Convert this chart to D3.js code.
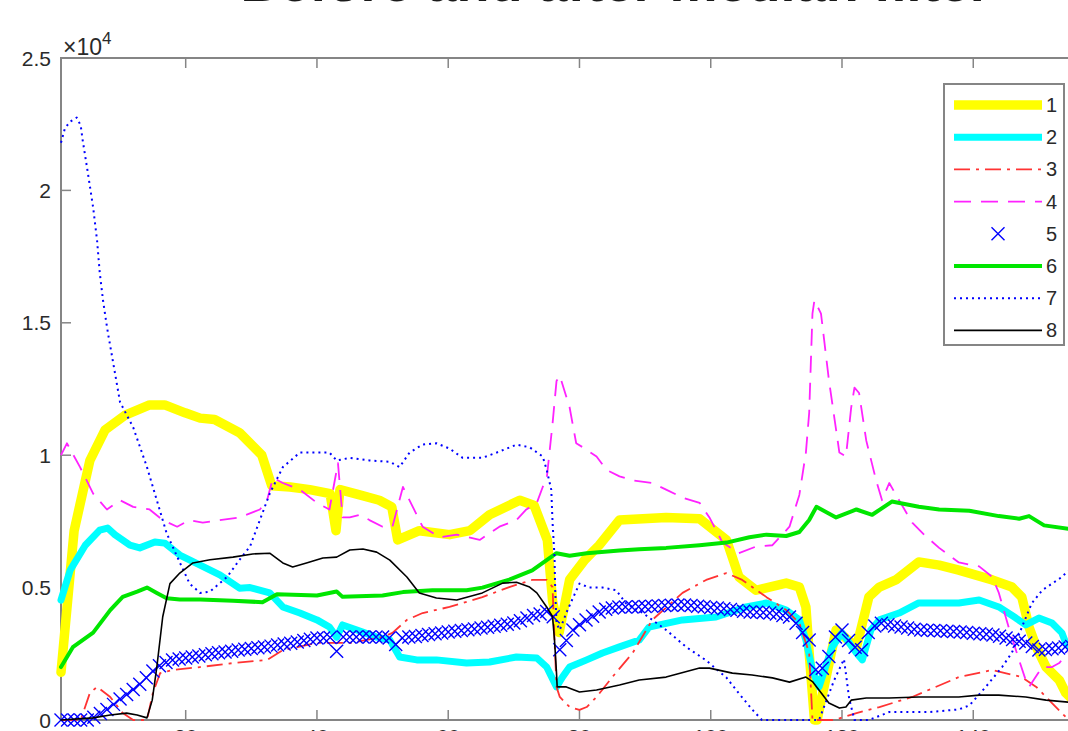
<!DOCTYPE html>
<html><head><meta charset="utf-8">
<script src="https://cdn.jsdelivr.net/npm/d3@7"></script>
<style>body{margin:0;background:#fff;overflow:hidden;} svg{display:block;}</style>
</head><body><svg id="chart" width="1068" height="731"></svg>
<script>
const titleText = "Before and after median filter";
const xTicks = [20, 40, 60, 80, 100, 120, 140, 160];
const yTicks = [0, 5000, 10000, 15000, 20000, 25000];
const yTickLabels = ["0", "0.5", "1", "1.5", "2", "2.5"];
const legendLabels = ["1", "2", "3", "4", "5", "6", "7", "8"];

const s1 = [[1,1800],[3,7150],[5.4,9800],[7.7,10950],[10.7,11500],[14.5,11900],[16.8,11900],[19.9,11600],[22.2,11400],[24.4,11350],[28.2,10850],[31.6,10000],[33.1,8850],[35.9,8800],[38.9,8700],[42,8550],[42.9,7150],[43.5,8700],[46.5,8500],[49.5,8300],[51.4,8050],[52.3,6800],[55.6,7150],[60.2,7000],[63.3,7150],[66.3,7750],[70.9,8300],[73.1,8100],[75.1,6800],[75.9,4500],[76.9,3300],[78.5,5300],[80.8,6050],[83,6600],[86.1,7550],[93.2,7650],[98.3,7600],[102.4,6800],[104.3,5400],[106.9,4900],[111.5,5170],[113.5,5020],[114.5,4270],[115,2530],[115.8,0],[116.2,0],[119.1,3400],[122.2,2750],[124.1,4650],[125.7,5020],[128.2,5290],[131.7,5970],[134.8,5850],[137.8,5660],[142.9,5290],[145.9,5020],[147.4,4640],[148.5,3510],[149.6,2760],[151.1,2000],[153.1,1510],[154.1,1020],[155,800]];

const s2 = [[1,4530],[2.4,5660],[4.7,6600],[6.9,7170],[8.1,7250],[9.2,7000],[11.5,6600],[13,6500],[15.3,6720],[16.8,6680],[19.1,6230],[22.2,5850],[25.2,5480],[28.2,4980],[29.8,5000],[32.8,4800],[34.8,4270],[37.4,4040],[40,3780],[41.9,3510],[43,3130],[43.9,3590],[46.1,3400],[49.1,3130],[51.1,3020],[52.6,2380],[55.2,2270],[58.2,2270],[62.8,2150],[66.3,2190],[70.4,2380],[73.5,2340],[75,2000],[76.5,1250],[77.4,1620],[78.5,2000],[81.1,2270],[83.5,2530],[86.1,2760],[89.1,3020],[90.6,3510],[95.7,3780],[100.8,3890],[105.4,4270],[108.5,4420],[111.5,4150],[113.5,3780],[114.5,3020],[115.5,1890],[116.5,1250],[118.5,2760],[120,3290],[122.2,2530],[123.1,2270],[124.4,3400],[125.7,3780],[128.7,4040],[131.7,4420],[137.8,4420],[140.9,4530],[143.9,4270],[146.5,3850],[148,3590],[150,3850],[152,3660],[153.5,3290],[154.1,2910],[155,2700]];

const s3 = [[1,0],[4,0],[5.4,1020],[6.5,1250],[8.5,870],[10.4,260],[12,0],[14.1,0],[15,1020],[16.1,1770],[18,1890],[22.2,2000],[27.2,2150],[32.4,2270],[34.8,2640],[40,2910],[45,2910],[50,3130],[51.5,3290],[53.7,3780],[56.1,4040],[60.2,4270],[65.2,4640],[69.3,5020],[72.8,5290],[75,5290],[75.9,5020],[76.2,3020],[76.5,1250],[77,870],[78.5,490],[80,380],[81.1,490],[82.6,870],[85,1620],[88.1,2530],[91.1,3780],[95.7,4800],[99.3,5290],[102.4,5550],[104.8,5290],[108.5,4640],[111.5,4150],[113.5,3660],[115,2530],[115.5,0],[118.8,0],[122.2,260],[125.7,490],[130.7,870],[137.8,1620],[142.9,1890],[147.4,1620],[149.6,1250],[152,640],[154.1,110],[155,0]];

const s4 = [[1,10000],[1.9,10450],[3.9,9550],[5.9,8550],[8,7950],[10,8300],[12,8050],[14.5,7950],[16.5,7550],[18.7,7300],[20.6,7550],[22.6,7450],[25.2,7550],[28.2,7650],[31.3,7950],[32.4,8300],[33.3,9150],[34.8,8950],[37.4,8700],[40,8200],[41.9,7950],[43.2,9700],[43.9,7650],[45,7650],[46.5,7750],[48,7550],[50,7300],[51.5,7300],[53.1,8800],[54.6,8050],[56.1,7300],[58.7,6900],[61.3,7000],[64.8,6800],[67.8,7300],[70.4,7550],[71.9,7950],[73.5,8200],[74.4,8800],[75,9100],[75.9,11200],[76.5,12800],[77,13000],[78.5,11800],[79.5,10450],[80.5,10300],[82.6,9950],[84.1,9450],[86.1,9200],[88.1,9050],[91.1,8950],[93.2,8700],[95.7,8400],[98.3,8200],[99.8,7650],[101.8,6700],[104.3,6300],[106.9,6550],[109.4,6600],[112,7300],[113.5,8500],[114.5,10100],[115,11600],[115.5,15350],[115.8,15850],[116.8,15350],[118,12850],[119.6,10100],[120.6,9950],[121.4,11800],[121.9,12550],[122.6,12350],[123.7,10550],[125.2,9050],[126.1,8300],[127.2,8950],[128.7,8300],[130.7,7450],[132.5,7000],[134.8,6500],[137.8,5950],[140.9,5800],[142.9,5400],[143.9,4800],[145.4,3500],[147,2250],[148,1500],[148.5,1250],[150.5,2000],[152,2000],[153.1,2150],[154.1,2450],[155,2600]];

const s5 = [0,0,0,0,0,100,250,400,590,790,
  960,1150,1350,1600,1850,2050,2170,2270,2300,2340,
  2380,2420,2460,2500,2540,2570,2600,2640,2670,2700,
  2730,2760,2790,2830,2870,2900,2950,3000,3050,3100,
  3100,3120,2600,3130,3130,3130,3130,3130,3130,3130,
  3100,2850,3100,3130,3150,3190,3230,3260,3290,3320,
  3350,3380,3410,3440,3470,3500,3540,3580,3620,3660,
  3750,3850,3950,4000,4100,3900,2650,3000,3400,3600,
  3780,3920,4080,4180,4230,4270,4270,4270,4280,4290,
  4300,4310,4320,4330,4340,4340,4320,4300,4280,4250,
  4230,4200,4170,4140,4110,4080,4070,4060,4040,4000,
  3950,3890,3650,3300,3020,1900,1950,2400,3130,3400,
  3000,2750,2650,3300,3550,3650,3600,3550,3510,3470,
  3430,3400,3390,3380,3370,3350,3340,3320,3300,3280,
  3260,3240,3210,3160,3100,3040,2970,2910,2780,2640,
  2660,2690,2720,2760,2780];

const s6 = [[1,2000],[2.8,2750],[5.9,3300],[8.5,4150],[10.4,4650],[12.6,4850],[14.1,5000],[15.6,4800],[17.1,4600],[19.1,4550],[22.2,4550],[27.2,4500],[31.7,4450],[33.9,4750],[40,4700],[43,4850],[43.9,4650],[50,4700],[53.1,4830],[57.6,4900],[62.8,4900],[65.2,5000],[69.3,5300],[72.8,5650],[76.5,6300],[78.5,6200],[81.1,6300],[86.1,6400],[89.1,6450],[93.2,6500],[98.3,6600],[102.4,6700],[105.9,6900],[108.5,7000],[111.5,6950],[113.5,7100],[115,7550],[116.1,8050],[119.1,7650],[122.2,7950],[124.6,7750],[127.6,8250],[131.7,8050],[134.8,7950],[139.4,7900],[143.9,7700],[147,7600],[148.5,7700],[150.8,7350],[155,7200]];

const s7 = [[1,21800],[1.6,22350],[2.4,22600],[3.4,22750],[4,22450],[4.3,21900],[5.1,20650],[5.9,19350],[6.5,18100],[6.9,16900],[7.4,15850],[8,14850],[8.2,14550],[10,12000],[12,11050],[14.1,9550],[15.6,8300],[17.1,7050],[19.1,5950],[20.6,5150],[22.2,4800],[23.7,4850],[26.3,5400],[28.2,6050],[29.8,6550],[31.3,7550],[32.8,8550],[34.8,9550],[37.4,10100],[40,10100],[41.9,10100],[43,9800],[45,9900],[48,9800],[51.1,9750],[52.6,9550],[54.1,10100],[56.1,10400],[58.2,10450],[60.2,10250],[62.2,9900],[65.2,9900],[67.4,10100],[70.4,10400],[72.4,10300],[74.4,9950],[75,9450],[75.7,8700],[75.9,7450],[76.2,6150],[76.3,4900],[76.5,3650],[77,3400],[78,4050],[78.9,4550],[80,5150],[81.5,5000],[83.5,5000],[85.6,4900],[87.1,4400],[89.6,4050],[93.2,3400],[96.3,2750],[99.3,2250],[102.4,1600],[104.3,1000],[106.3,400],[107.8,0],[116.5,0],[118.8,1500],[120.3,2300],[121.1,800],[121.9,0],[124.1,0],[127.2,300],[133.3,300],[137.8,400],[139.4,550],[141.9,1250],[144.4,2000],[145.9,2550],[147.4,3500],[148.9,4400],[150.5,4900],[152,5150],[153.5,5400],[154.1,5550],[155,5700]];

const s8 = [[1,0],[5.9,80],[8.5,190],[11,260],[12.6,190],[14.1,80],[14.9,750],[15.6,2000],[16.5,3900],[17.6,5150],[19.1,5550],[21.1,5930],[23.7,6050],[27.2,6150],[30.2,6270],[32.8,6300],[34.8,5930],[36.3,5780],[38.4,5930],[40.9,6120],[43,6150],[45,6420],[47,6460],[49.1,6340],[51.1,6040],[53.7,5400],[55.6,4800],[58.2,4610],[61.3,4530],[65.2,4800],[68.3,5170],[70.4,5200],[72.4,5020],[73.5,4800],[75,4270],[75.9,3900],[76.2,3000],[76.5,1770],[76.6,1250],[78,1250],[80,1060],[82.6,1130],[86.1,1320],[89.1,1510],[93.2,1620],[98.3,1960],[99.8,1960],[103.3,1770],[106.3,1700],[109.4,1590],[112,1430],[114.5,1620],[115.5,1450],[118,640],[119.6,450],[120.6,490],[121.4,750],[123.7,830],[127.2,830],[131.7,870],[137.8,870],[140.9,940],[143.9,940],[148,870],[151.1,750],[155,660]];

const W = 1068, H = 731;
const L = 61, T = 58, B = 720;
const R = L + 169 * 6.563;
const x = d3.scaleLinear().domain([1, 170]).range([L, R]);
const y = d3.scaleLinear().domain([0, 25000]).range([B, T]);

const svg = d3.select("#chart");
const font = "'Liberation Sans', Arial, Helvetica, sans-serif";
const axisColor = "#858585";
const textColor = "#2a2a2a";

// title (cut off at top, as in the reference)
svg.append("text").attr("x", (L + R) / 2).attr("y", 0.8)
  .attr("text-anchor", "middle").attr("font-family", font)
  .attr("font-weight", "bold").attr("font-size", 54).attr("fill", "#1a1a1a")
  .text(titleText);

// axes box
const g = svg.append("g");
g.append("rect").attr("x", L).attr("y", T).attr("width", R - L).attr("height", B - T)
  .attr("fill", "none").attr("stroke", axisColor).attr("stroke-width", 2);

const tickLen = 10;
xTicks.forEach(t => {
  g.append("line").attr("x1", x(t)).attr("x2", x(t)).attr("y1", B).attr("y2", B - tickLen)
    .attr("stroke", axisColor).attr("stroke-width", 1.5);
  g.append("line").attr("x1", x(t)).attr("x2", x(t)).attr("y1", T).attr("y2", T + tickLen)
    .attr("stroke", axisColor).attr("stroke-width", 1.5);
  g.append("text").attr("x", x(t)).attr("y", B + 24).attr("text-anchor", "middle")
    .attr("font-family", font).attr("font-size", 21).attr("fill", textColor).text(t);
});
yTicks.forEach((t, i) => {
  g.append("line").attr("x1", L).attr("x2", L + tickLen).attr("y1", y(t)).attr("y2", y(t))
    .attr("stroke", axisColor).attr("stroke-width", 1.5);
  g.append("line").attr("x1", R).attr("x2", R - tickLen).attr("y1", y(t)).attr("y2", y(t))
    .attr("stroke", axisColor).attr("stroke-width", 1.5);
  g.append("text").attr("x", 51).attr("y", y(t) + 7.5).attr("text-anchor", "end")
    .attr("font-family", font).attr("font-size", 21).attr("fill", textColor).text(yTickLabels[i]);
});
// exponent
const ex = svg.append("text").attr("x", 63).attr("y", 55).attr("font-family", font)
  .attr("fill", textColor);
ex.append("tspan").attr("font-size", 23).text("\u00d710");
ex.append("tspan").attr("font-size", 17).attr("dy", -11).text("4");

// series
const line = d3.line().x(d => x(d[0])).y(d => y(d[1]));
const styles = [
  {data: s1, color: "#ffff00", w: 9.5, dash: null},
  {data: s2, color: "#00ffff", w: 7, dash: null},
  {data: s3, color: "#ff3333", w: 1.8, dash: "16,6,3,6"},
  {data: s4, color: "#ff22ff", w: 1.8, dash: "17,10"},
  null,
  {data: s6, color: "#00e600", w: 4, dash: null},
  {data: s7, color: "#0000ff", w: 2, dash: "2,4"},
  {data: s8, color: "#000000", w: 1.6, dash: null}
];
const plot = svg.append("g");
const ms = 6.5;
function cross(sel, cx, cy, s) {
  sel.append("path").attr("d", `M${cx - s},${cy - s}L${cx + s},${cy + s}M${cx - s},${cy + s}L${cx + s},${cy - s}`)
    .attr("stroke", "#0000ff").attr("stroke-width", 1.4).attr("fill", "none");
}
styles.forEach((st, i) => {
  if (i === 4) {
    const mg = plot.append("g");
    s5.forEach((v, k) => cross(mg, x(k + 1), y(v), ms));
    return;
  }
  plot.append("path").datum(st.data).attr("d", line)
    .attr("fill", "none").attr("stroke", st.color).attr("stroke-width", st.w)
    .attr("stroke-linejoin", "round").attr("stroke-linecap", st.dash ? "butt" : "round")
    .attr("stroke-dasharray", st.dash);
});

// legend
const lg = svg.append("g");
const lx0 = 944, ly0 = 84, lx1 = 1064, ly1 = 345;
lg.append("rect").attr("x", lx0).attr("y", ly0).attr("width", lx1 - lx0).attr("height", ly1 - ly0)
  .attr("fill", "#fff").attr("stroke", axisColor).attr("stroke-width", 2);
legendLabels.forEach((lab, i) => {
  const yy = 105 + i * 32.2;
  if (i === 4) {
    cross(lg, 998, yy, ms);
  } else {
    const st = styles[i];
    lg.append("line").attr("x1", 954).attr("x2", 1042).attr("y1", yy).attr("y2", yy)
      .attr("stroke", st.color).attr("stroke-width", st.w).attr("stroke-dasharray", st.dash);
  }
  lg.append("text").attr("x", 1046).attr("y", yy + 7).attr("font-family", font)
    .attr("font-size", 20).attr("fill", textColor).text(lab);
});
</script></body></html>
